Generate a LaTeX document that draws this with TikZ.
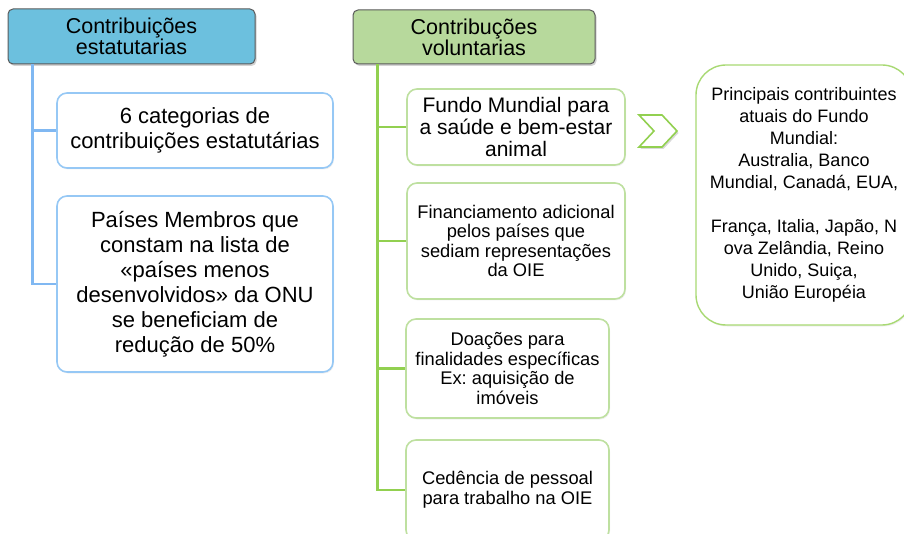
\documentclass[tikz,border=0pt]{standalone}
\usepackage{fontspec}
\setmainfont{Liberation Sans}
\usetikzlibrary{shadows}
\frenchspacing

\definecolor{hdrblue}{RGB}{108,192,222}
\definecolor{hdrgreen}{RGB}{183,217,156}
\definecolor{lineblue}{RGB}{128,184,242}
\definecolor{linegreen}{RGB}{146,208,80}
\definecolor{boxblue}{RGB}{150,200,245}
\definecolor{boxgreen}{RGB}{190,224,160}
\definecolor{hdredge}{RGB}{90,90,90}

\tikzset{
	header/.style={draw=hdredge, line width=1pt, rounded corners=5pt, align=center,
		inner sep=0pt, font=\fontsize{21.5}{21}\selectfont,
		drop shadow={opacity=0.35, shadow xshift=1.5pt, shadow yshift=-2pt}},
	itembox/.style={draw, fill=white, line width=1.6pt, rounded corners=10pt, align=center,
		inner sep=0pt, drop shadow={opacity=0.12, shadow xshift=1pt, shadow yshift=-1.5pt}},
	bluelink/.style={draw=lineblue, line width=2.2pt},
	greenlink/.style={draw=linegreen, line width=2.4pt}
}

\begin{document}
\begin{tikzpicture}[x=1pt, y=-1pt]
			%%%%% START %%%%%
			\useasboundingbox (0, 0) rectangle (904, 534);
			\clip (0, 0) rectangle (904, 534);
			
			% estatutarias
			\node[header, fill=hdrblue, minimum width=247pt, minimum height=55pt] (estat) at (131.5, 36.5) {Contribuições\\estatutarias};
			
			\node[itembox, draw=boxblue, minimum width=276pt, minimum height=75pt, font=\fontsize{22}{25}\selectfont] (categ) at (195, 130.5) {6 categorias de\\contribuições estatutárias};
			\node[itembox, draw=boxblue, minimum width=276pt, minimum height=176pt, font=\fontsize{22}{25}\selectfont] (paises) at (195, 284) {Países Membros que\\constam na lista de\\«países menos\\desenvolvidos» da ONU\\se beneficiam de\\redução de 50\%};
			
			\draw[bluelink] ([xshift=25pt]estat.south west) |- (categ.west);
			\draw[bluelink] ([xshift=25pt]estat.south west) |- (paises.west);
			
			% voluntarias
			\node[header, fill=hdrgreen, minimum width=242pt, minimum height=54pt] (volunt) at (474, 37) {Contribuções\\voluntarias};
			
			\node[itembox, draw=boxgreen, minimum width=218pt, minimum height=76pt, font=\fontsize{21}{22}\selectfont] (fundo) at (516, 127) {Fundo Mundial para\\a saúde e bem-estar\\animal};
			\node[itembox, draw=boxgreen, minimum width=218pt, minimum height=116pt, font=\fontsize{18.3}{19.5}\selectfont] (financ) at (516, 241) {Financiamento adicional\\pelos países que\\sediam representações\\da OIE};
			\node[itembox, draw=boxgreen, minimum width=203pt, minimum height=99pt, font=\fontsize{18.3}{19.5}\selectfont] (doacoes) at (507.5, 368.5) {Doações para\\finalidades específicas\\Ex: aquisição de\\imóveis};
			\node[itembox, draw=boxgreen, minimum width=203pt, minimum height=100pt, font=\fontsize{18.3}{20}\selectfont] (cedencia) at (507.5, 490) {Cedência de pessoal\\para trabalho na OIE};
			
			\draw[greenlink] ([xshift=25pt]volunt.south west) |- (fundo.west);
			\draw[greenlink] ([xshift=25pt]volunt.south west) |- (financ.west);
			\draw[greenlink] ([xshift=25pt]volunt.south west) |- (doacoes.west);
			\draw[greenlink] ([xshift=25pt]volunt.south west) |- (cedencia.west);
			
			% chevron
			\draw[draw=linegreen, fill=white, line width=1.6pt, line join=miter,
				drop shadow={opacity=0.3, shadow xshift=1.5pt, shadow yshift=-2pt}]
				(639, 115) -- (662, 115) -- (677, 131) -- (662, 147) -- (639, 147) -- (654, 131) -- cycle;
			
			\node[itembox, draw=linegreen!80, line width=1.4pt, rounded corners=30pt, minimum width=216pt, minimum height=260pt, font=\fontsize{18}{22}\selectfont, drop shadow={opacity=0}] (princ) at (804, 195) {Principais contribuintes\\atuais do Fundo\\Mundial:\\Australia, Banco\\Mundial, Canadá, EUA,\\[22pt]França, Italia, Japão, N\\ova Zelândia, Reino\\Unido, Suiça,\\União Européia};
			
			%%%%% END %%%%%
		\end{tikzpicture}
\end{document}
